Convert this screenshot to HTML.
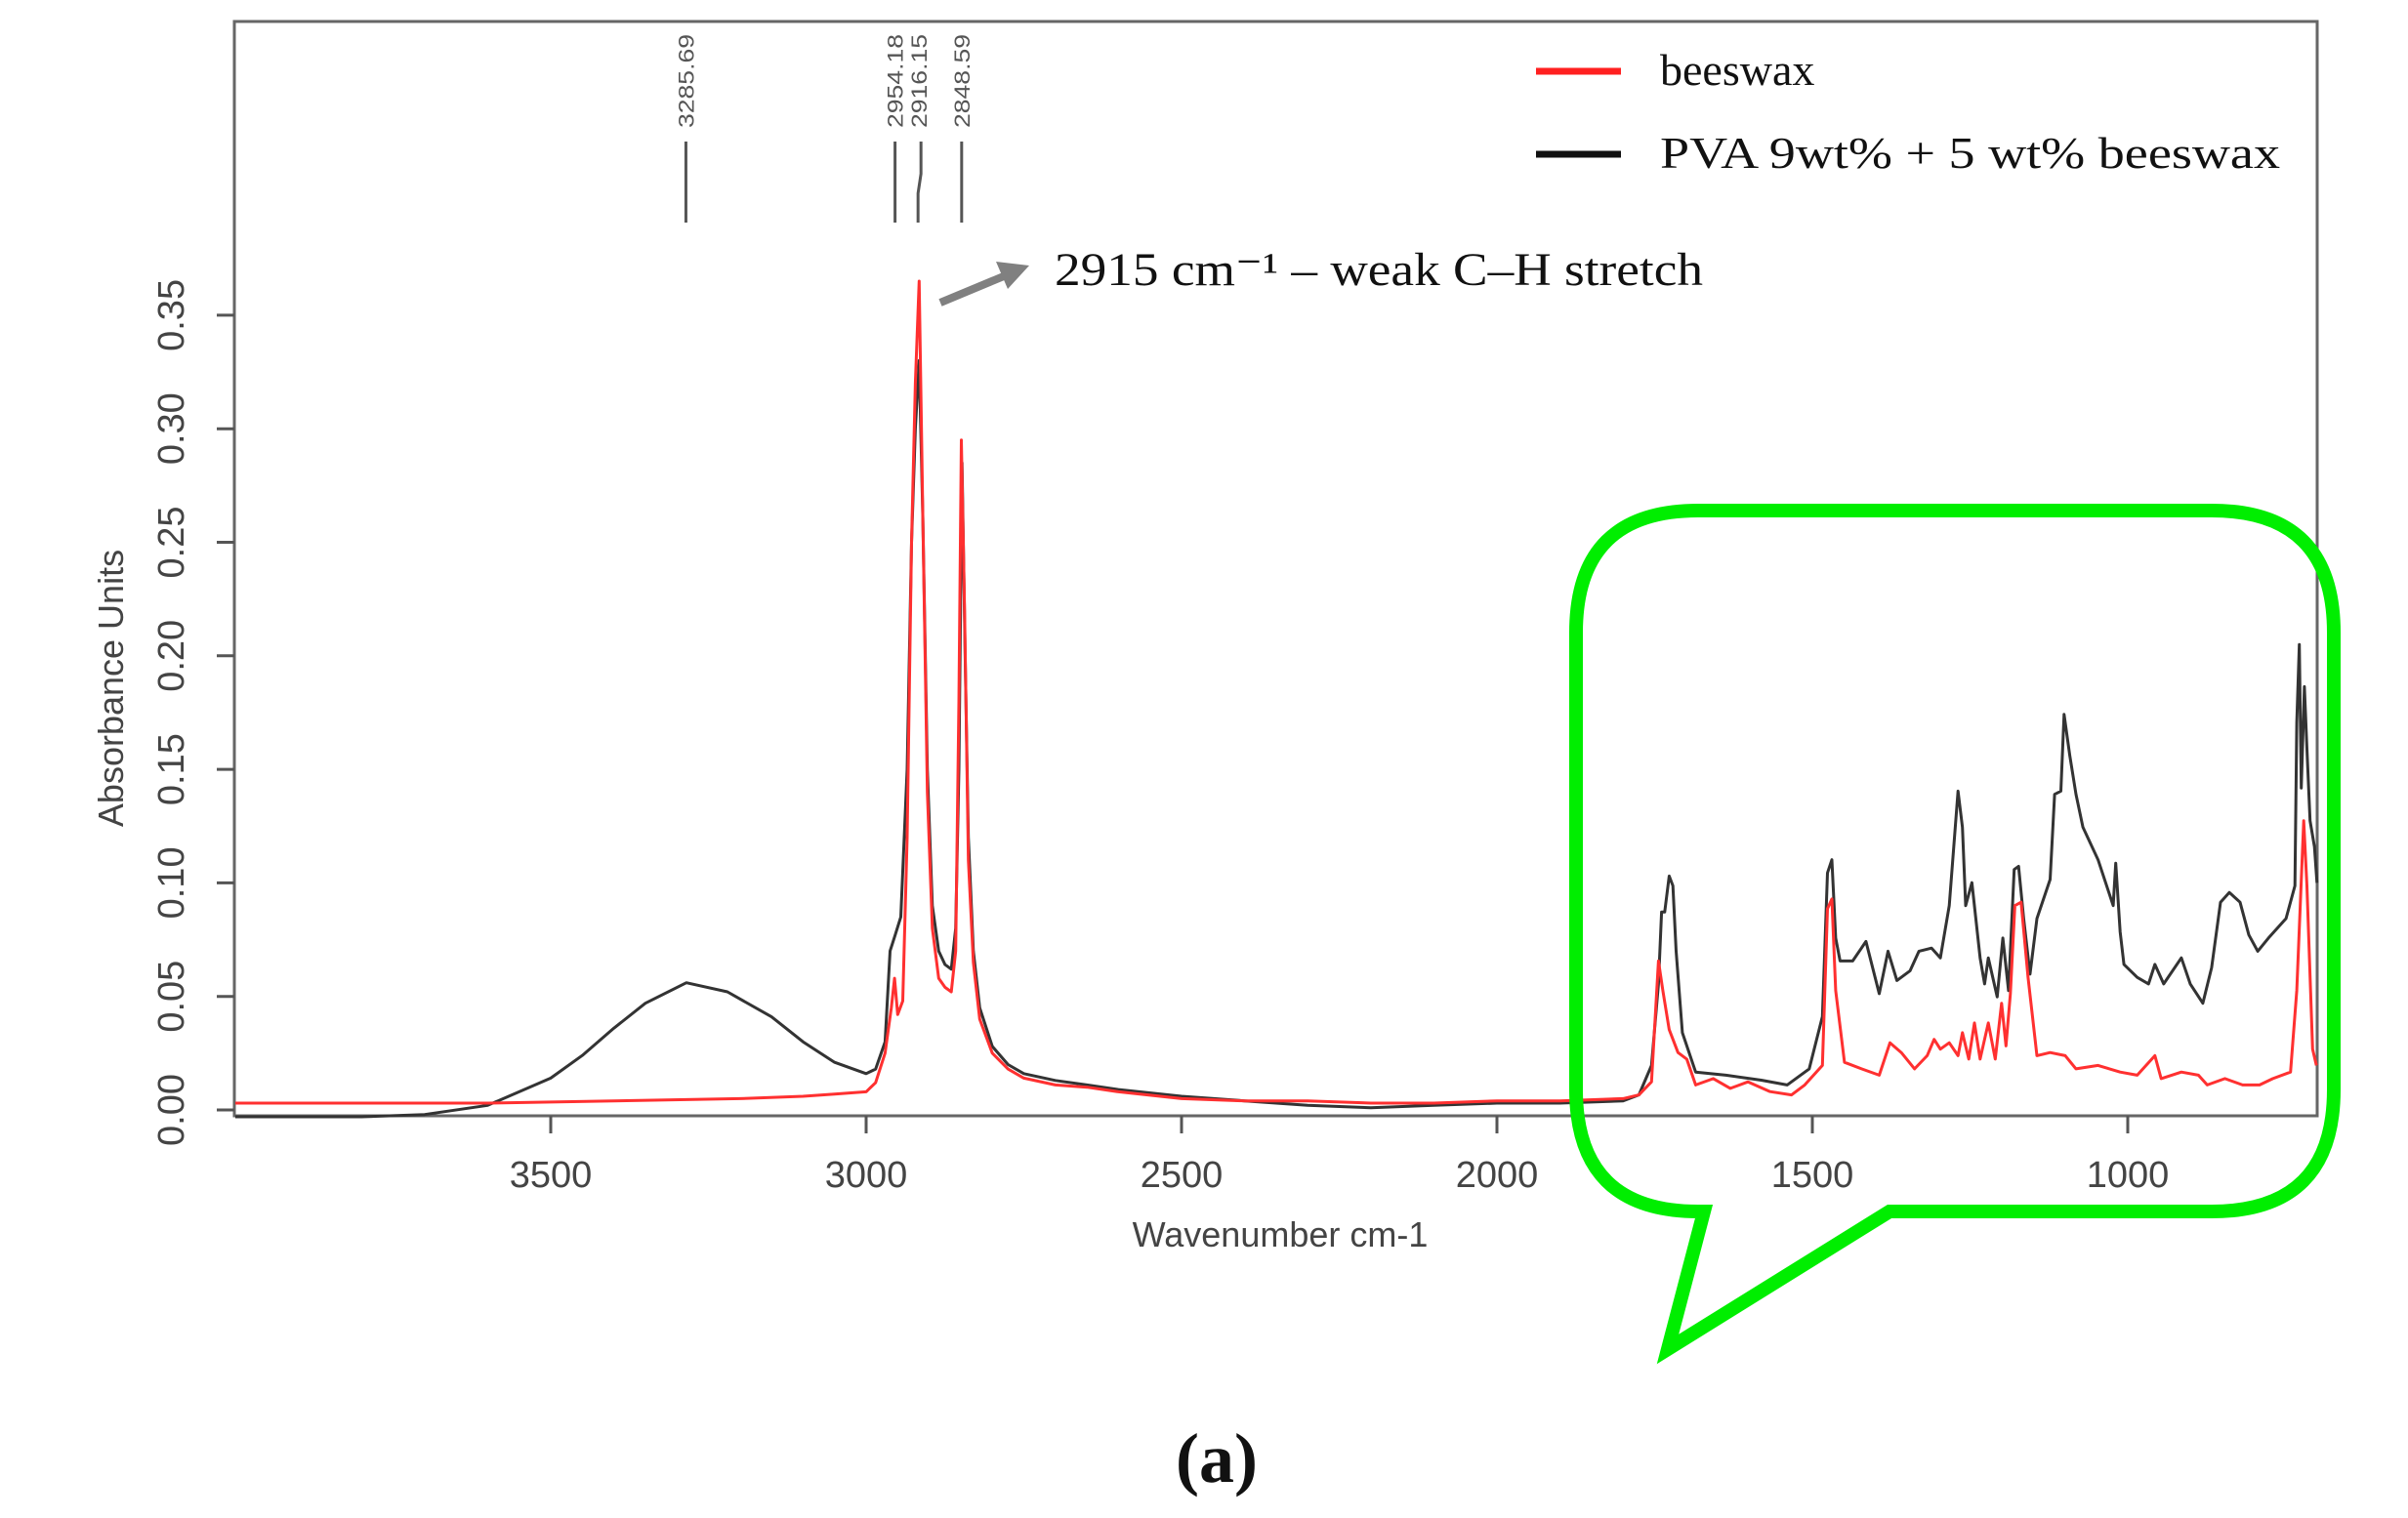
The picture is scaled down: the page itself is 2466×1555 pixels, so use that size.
<!DOCTYPE html>
<html><head><meta charset="utf-8"><style>
html,body{margin:0;padding:0;background:#fff;}
svg{display:block;}
</style></head><body>
<svg id="chart" width="2466" height="1555" viewBox="0 0 2466 1555" xmlns="http://www.w3.org/2000/svg">
<rect x="0" y="0" width="2466" height="1555" fill="#fff"/>
<g id="plot"></g>
</svg>
<script>
const xTicks = [3500, 3000, 2500, 2000, 1500, 1000];
const yTicks = [0.00, 0.05, 0.10, 0.15, 0.20, 0.25, 0.30, 0.35];
const yTickLabels = ["0.00","0.05","0.10","0.15","0.20","0.25","0.30","0.35"];
const peakWavenumbers = [3285.69, 2954.18, 2916.15, 2848.59];
const peakLabels = ["3285.69","2954.18","2916.15","2848.59"];
const seriesNames = ["beeswax", "PVA 9wt% + 5 wt% beeswax"];

const blackW = [4000,3800,3700,3600,3500,3450,3400,3350,3285,3220,3150,3100,3050,3000,2985,2970,2962,2954,2945,2935,2928,2922,2916,2910,2903,2895,2885,2875,2865,2858,2853,2848,2843,2838,2830,2820,2800,2775,2750,2700,2650,2600,2500,2400,2300,2200,2100,2000,1900,1800,1775,1755,1744,1739,1734,1727,1721,1716,1706,1685,1637,1581,1540,1505,1484,1476,1469,1463,1456,1436,1415,1394,1380,1366,1345,1331,1311,1297,1283,1269,1262,1257,1247,1234,1227,1221,1207,1198,1189,1180,1173,1165,1155,1144,1123,1116,1106,1101,1092,1082,1071,1047,1023,1019,1012,1006,985,967,957,943,915,901,881,867,853,839,822,808,794,777,749,735,732,728,725,720,716,711,704,700];
const blackA = [-0.003,-0.003,-0.002,0.002,0.014,0.024,0.036,0.047,0.056,0.052,0.041,0.030,0.021,0.016,0.018,0.030,0.070,0.077,0.085,0.150,0.250,0.300,0.330,0.260,0.150,0.090,0.070,0.064,0.062,0.080,0.150,0.285,0.200,0.120,0.070,0.045,0.028,0.020,0.016,0.013,0.011,0.009,0.006,0.004,0.002,0.001,0.002,0.003,0.003,0.004,0.0066,0.0196,0.0555,0.0872,0.0872,0.103,0.0987,0.0699,0.034,0.0167,0.0153,0.0131,0.011,0.0181,0.0411,0.1044,0.1102,0.0757,0.0656,0.0656,0.0742,0.0512,0.0699,0.057,0.0613,0.0699,0.0713,0.067,0.09,0.1404,0.1245,0.09,0.1001,0.067,0.0555,0.067,0.0498,0.0757,0.0526,0.1059,0.1073,0.0843,0.0598,0.0843,0.1015,0.139,0.1404,0.1742,0.1562,0.139,0.1245,0.1102,0.09,0.1087,0.0785,0.0641,0.0584,0.0555,0.0641,0.0555,0.067,0.0555,0.047,0.0627,0.0915,0.0958,0.0915,0.0771,0.0699,0.0757,0.0843,0.0987,0.1706,0.205,0.1418,0.1864,0.1591,0.1274,0.1159,0.10];

const redW = [4000,3800,3600,3400,3200,3100,3050,3000,2985,2970,2960,2955,2950,2942,2935,2928,2922,2916,2910,2903,2895,2885,2875,2865,2858,2853,2849,2844,2838,2830,2820,2800,2775,2750,2700,2650,2600,2500,2400,2300,2200,2100,2000,1900,1800,1775,1755,1744,1737,1727,1713,1699,1685,1657,1630,1602,1567,1533,1512,1484,1476,1469,1463,1449,1422,1394,1377,1359,1338,1318,1307,1297,1283,1269,1262,1252,1243,1234,1221,1210,1200,1193,1186,1179,1169,1158,1144,1123,1099,1082,1047,1012,985,957,947,915,888,874,846,818,791,770,742,732,721,716,707,701];
const redA = [0.003,0.003,0.003,0.004,0.005,0.006,0.007,0.008,0.012,0.025,0.045,0.058,0.042,0.048,0.120,0.250,0.320,0.365,0.260,0.140,0.080,0.058,0.054,0.052,0.070,0.180,0.295,0.220,0.110,0.065,0.040,0.025,0.018,0.014,0.011,0.010,0.008,0.005,0.004,0.004,0.003,0.003,0.004,0.004,0.005,0.0066,0.0124,0.0656,0.0526,0.0354,0.0253,0.0224,0.011,0.0138,0.0095,0.0124,0.0081,0.0066,0.011,0.0196,0.0886,0.0929,0.0526,0.021,0.0181,0.0153,0.0296,0.0253,0.0181,0.0239,0.0311,0.0268,0.0296,0.0239,0.034,0.0224,0.0383,0.0224,0.0383,0.0224,0.047,0.0282,0.0512,0.09,0.0915,0.0584,0.0239,0.0253,0.0239,0.0181,0.0196,0.0167,0.0153,0.0239,0.0138,0.0167,0.0153,0.011,0.0138,0.011,0.011,0.0138,0.0167,0.0526,0.1274,0.0987,0.0268,0.0196];

const L=240,R=2373,T=22,B=1143;
function xs(w){return 564+(3500-w)*0.646;}
function ys(v){return 1137-v*2326;}
const NS="http://www.w3.org/2000/svg";
const g=document.getElementById('plot');
function mk(tag,attrs,parent){const e=document.createElementNS(NS,tag);for(const k in attrs)e.setAttribute(k,attrs[k]);(parent||g).appendChild(e);return e;}

let frame=mk('rect',{x:L,y:T,width:R-L,height:B-T,fill:'none',stroke:'#666',"stroke-width":3});



xTicks.forEach((t,i)=>{
  const x=xs(t);
  const tk=mk('line',{x1:x,y1:B,x2:x,y2:B+18,stroke:'#555',"stroke-width":3});
  
  
  const tx=mk('text',{x:x,y:1216,"text-anchor":"middle","font-family":"Liberation Sans, Arial, sans-serif","font-size":38,fill:'#444'});
  tx.textContent=String(t);
  
  
});
yTicks.forEach((t,i)=>{
  const y=ys(t);
  const tk=mk('line',{x1:L-18,y1:y,x2:L,y2:y,stroke:'#555',"stroke-width":3});
  
  
  const tx=mk('text',{x:0,y:0,"text-anchor":"middle","font-family":"Liberation Sans, Arial, sans-serif","font-size":38,fill:'#444',transform:`translate(188,${y}) rotate(-90)`});
  tx.textContent=yTickLabels[i];
  
  
});
let xt=mk('text',{x:1311,y:1277,"text-anchor":"middle","font-family":"Liberation Sans, Arial, sans-serif","font-size":36,fill:'#444'});
xt.textContent='Wavenumber cm-1';


let yt=mk('text',{x:0,y:0,"text-anchor":"middle","font-family":"Liberation Sans, Arial, sans-serif","font-size":36,fill:'#444',transform:'translate(126,705) rotate(-90)'});
yt.textContent='Absorbance Units';



function path(W,A){return W.map((w,i)=>(i?'L':'M')+xs(w).toFixed(1)+','+ys(A[i]).toFixed(1)).join(' ');}
let pb=mk('path',{d:path(blackW,blackA),fill:'none',stroke:'#333',"stroke-width":3,"stroke-linejoin":"round"});


let pr=mk('path',{d:path(redW,redA),fill:'none',stroke:'#ff3030',"stroke-width":3,"stroke-linejoin":"round"});



peakWavenumbers.forEach((w,i)=>{
  const x=xs(w);
  let ln;
  if(i===2){ln=mk('path',{d:`M${x-1},228 L${x-1},198 L${x+2},178 L${x+2},145`,fill:'none',stroke:'#555',"stroke-width":3});}
  else{ln=mk('line',{x1:x,y1:145,x2:x,y2:228,stroke:'#555',"stroke-width":3});}
  
  
  const tx=mk('text',{x:0,y:0,"text-anchor":"start","font-family":"Liberation Sans, Arial, sans-serif","font-size":22,fill:'#555',textLength:96,lengthAdjust:'spacingAndGlyphs',transform:`translate(${x+8},131) rotate(-90)`});
  tx.textContent=peakLabels[i];
  
  
});

let ar=mk('line',{x1:963,y1:310,x2:1035,y2:280,stroke:'#808080',"stroke-width":8});


let ah=mk('polygon',{points:'1054,272 1020,268 1032,296',fill:'#808080'});


let an=mk('text',{x:1080,y:292,"font-family":"Liberation Serif, Times New Roman, serif","font-size":48,fill:'#111',textLength:664,lengthAdjust:'spacingAndGlyphs'});
an.textContent='2915 cm\u207B\u00B9 \u2013 weak C\u2013H stretch';



const legY=[73,158], legC=['#ff2020','#111'];
seriesNames.forEach((n,i)=>{
  const l=mk('line',{x1:1573,y1:legY[i],x2:1660,y2:legY[i],stroke:legC[i],"stroke-width":7});
  
  
  const t=mk('text',{x:1700,y:legY[i]+14,"font-family":"Liberation Serif, Times New Roman, serif","font-size":46,fill:'#111'});
  if(i===1){t.setAttribute('textLength',635);t.setAttribute('lengthAdjust','spacingAndGlyphs');}
  t.textContent=n;
  
  
});

let cb=mk('path',{d:'M1739,523 L2265,523 Q2390,523 2390,648 L2390,1116 Q2390,1241 2265,1241 L1935,1241 L1708,1382 L1745,1241 L1739,1241 Q1614,1241 1614,1116 L1614,648 Q1614,523 1739,523 Z',fill:'none',stroke:'#00ee00',"stroke-width":14,"stroke-linejoin":"miter"});



let pl=mk('text',{x:1246,y:1518,"text-anchor":"middle","font-family":"Liberation Serif, Times New Roman, serif","font-size":72,"font-weight":"bold",fill:'#111'});
pl.textContent='(a)';


</script>
</body></html>
